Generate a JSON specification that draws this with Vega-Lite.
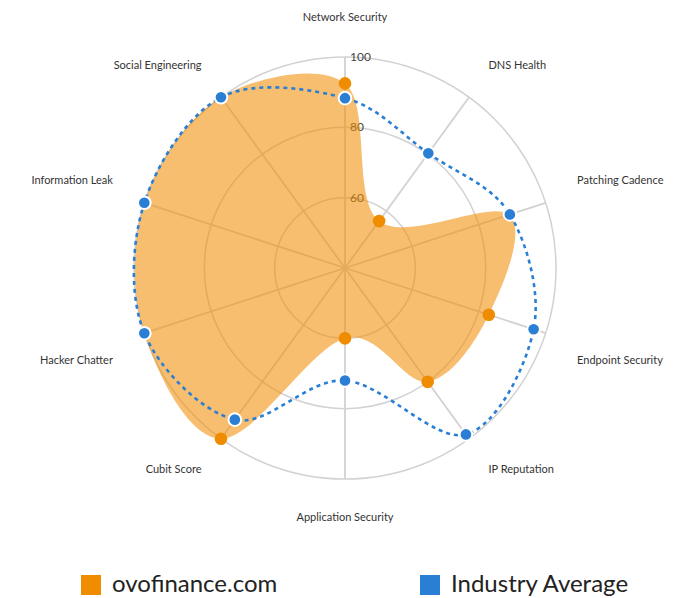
{
  "$schema": "https://vega.github.io/schema/vega-lite/v6.json",
  "width": 422,
  "height": 422,
  "autosize": {"type": "none"},
  "padding": {"left": 134, "top": 57, "right": 134, "bottom": 119},
  "background": "white",
  "config": {"view": {"stroke": null}, "font": "Lato"},
  "datasets": {
    "scores": [
      {"axis": "Network Security", "i": 0, "series": "ovofinance.com", "value": 92.5},
      {"axis": "DNS Health", "i": 1, "series": "ovofinance.com", "value": 56.5},
      {"axis": "Patching Cadence", "i": 2, "series": "ovofinance.com", "value": 89},
      {"axis": "Endpoint Security", "i": 3, "series": "ovofinance.com", "value": 83},
      {"axis": "IP Reputation", "i": 4, "series": "ovofinance.com", "value": 80},
      {"axis": "Application Security", "i": 5, "series": "ovofinance.com", "value": 60},
      {"axis": "Cubit Score", "i": 6, "series": "ovofinance.com", "value": 100},
      {"axis": "Hacker Chatter", "i": 7, "series": "ovofinance.com", "value": 100},
      {"axis": "Information Leak", "i": 8, "series": "ovofinance.com", "value": 100},
      {"axis": "Social Engineering", "i": 9, "series": "ovofinance.com", "value": 100},
      {"axis": "Network Security", "i": 0, "series": "Industry Average", "value": 88.3},
      {"axis": "DNS Health", "i": 1, "series": "Industry Average", "value": 80.3},
      {"axis": "Patching Cadence", "i": 2, "series": "Industry Average", "value": 89.3},
      {"axis": "Endpoint Security", "i": 3, "series": "Industry Average", "value": 96.4},
      {"axis": "IP Reputation", "i": 4, "series": "Industry Average", "value": 98.5},
      {"axis": "Application Security", "i": 5, "series": "Industry Average", "value": 72},
      {"axis": "Cubit Score", "i": 6, "series": "Industry Average", "value": 93.3},
      {"axis": "Hacker Chatter", "i": 7, "series": "Industry Average", "value": 100},
      {"axis": "Information Leak", "i": 8, "series": "Industry Average", "value": 100},
      {"axis": "Social Engineering", "i": 9, "series": "Industry Average", "value": 100}
    ],
    "axes": [
      {"axis": "Network Security", "i": 0},
      {"axis": "DNS Health", "i": 1},
      {"axis": "Patching Cadence", "i": 2},
      {"axis": "Endpoint Security", "i": 3},
      {"axis": "IP Reputation", "i": 4},
      {"axis": "Application Security", "i": 5},
      {"axis": "Cubit Score", "i": 6},
      {"axis": "Hacker Chatter", "i": 7},
      {"axis": "Information Leak", "i": 8},
      {"axis": "Social Engineering", "i": 9}
    ],
    "rings": [
      {"ring": 60},
      {"ring": 80},
      {"ring": 100}
    ]
  },
  "layer": [
    {
      "data": {"name": "rings"},
      "transform": [{"calculate": "datum.ring - 40", "as": "r"}],
      "mark": {"type": "point", "shape": "circle", "filled": false, "fill": null, "stroke": "#d2d2d2", "strokeWidth": 1.5, "opacity": 1},
      "encoding": {
        "x": {"datum": 0, "type": "quantitative", "scale": {"domain": [-60, 60], "nice": false, "zero": false}, "axis": null},
        "y": {"datum": 0, "type": "quantitative", "scale": {"domain": [-60, 60], "nice": false, "zero": false}, "axis": null},
        "size": {"field": "r", "type": "quantitative", "scale": {"type": "pow", "exponent": 2, "domain": [0, 60], "range": [0, 178084], "zero": true, "nice": false}, "legend": null}
      }
    },
    {
      "data": {"name": "axes"},
      "transform": [
        {"calculate": "2 * PI * datum.i / 10", "as": "theta"},
        {"calculate": "60 * sin(datum.theta)", "as": "ox"},
        {"calculate": "60 * cos(datum.theta)", "as": "oy"}
      ],
      "mark": {"type": "rule", "stroke": "#d2d2d2", "strokeWidth": 1.8},
      "encoding": {
        "x": {"field": "ox", "type": "quantitative"},
        "y": {"field": "oy", "type": "quantitative"},
        "x2": {"datum": 0},
        "y2": {"datum": 0}
      }
    },
    {
      "data": {"name": "rings"},
      "transform": [{"calculate": "datum.ring - 40", "as": "r"}],
      "mark": {"type": "text", "align": "left", "baseline": "middle", "dx": 5, "fontSize": 12, "fill": "#444"},
      "encoding": {
        "x": {"datum": 0},
        "y": {"field": "r", "type": "quantitative"},
        "text": {"field": "ring", "type": "quantitative"}
      }
    },
    {
      "data": {"name": "scores"},
      "transform": [
        {"filter": "datum.series == 'ovofinance.com'"},
        {"calculate": "2 * PI * datum.i / 10", "as": "theta"},
        {"calculate": "(datum.value - 40) * sin(datum.theta)", "as": "px"},
        {"calculate": "(datum.value - 40) * cos(datum.theta)", "as": "py"}
      ],
      "mark": {"type": "line", "interpolate": "cardinal-closed", "fill": "#F08C00", "fillOpacity": 0.57, "strokeWidth": 0, "strokeOpacity": 0},
      "encoding": {
        "x": {"field": "px", "type": "quantitative"},
        "y": {"field": "py", "type": "quantitative"},
        "order": {"field": "i", "type": "quantitative"}
      }
    },
    {
      "data": {"name": "scores"},
      "transform": [
        {"filter": "datum.series == 'Industry Average'"},
        {"calculate": "2 * PI * datum.i / 10", "as": "theta"},
        {"calculate": "(datum.value - 40) * sin(datum.theta)", "as": "px"},
        {"calculate": "(datum.value - 40) * cos(datum.theta)", "as": "py"}
      ],
      "mark": {"type": "line", "interpolate": "cardinal-closed", "stroke": "#2A7FD5", "strokeWidth": 2.6, "strokeDash": [4, 4]},
      "encoding": {
        "x": {"field": "px", "type": "quantitative"},
        "y": {"field": "py", "type": "quantitative"},
        "order": {"field": "i", "type": "quantitative"}
      }
    },
    {
      "data": {"name": "scores"},
      "transform": [
        {"filter": "datum.series == 'ovofinance.com'"},
        {"calculate": "2 * PI * datum.i / 10", "as": "theta"},
        {"calculate": "(datum.value - 40) * sin(datum.theta)", "as": "px"},
        {"calculate": "(datum.value - 40) * cos(datum.theta)", "as": "py"}
      ],
      "mark": {"type": "point", "shape": "circle", "filled": true, "opacity": 1, "size": 160, "strokeWidth": 0},
      "encoding": {
        "x": {"field": "px", "type": "quantitative"},
        "y": {"field": "py", "type": "quantitative"},
        "color": {
          "field": "series", "type": "nominal",
          "scale": {"domain": ["ovofinance.com", "Industry Average"], "range": ["#F08C00", "#2A7FD5"]},
          "legend": {
            "title": null, "orient": "none", "legendX": -55, "legendY": 516,
            "direction": "horizontal", "symbolType": "square", "symbolSize": 400,
            "symbolStrokeWidth": 0, "symbolOpacity": 1,
            "labelFontSize": 24, "labelFont": "Lato", "labelColor": "#222",
            "labelOffset": 9, "columnPadding": 140, "labelLimit": 400
          }
        }
      }
    },
    {
      "data": {"name": "scores"},
      "transform": [
        {"filter": "datum.series == 'Industry Average'"},
        {"calculate": "2 * PI * datum.i / 10", "as": "theta"},
        {"calculate": "(datum.value - 40) * sin(datum.theta)", "as": "px"},
        {"calculate": "(datum.value - 40) * cos(datum.theta)", "as": "py"}
      ],
      "mark": {"type": "point", "shape": "circle", "filled": true, "opacity": 1, "size": 160, "stroke": "white", "strokeWidth": 2},
      "encoding": {
        "x": {"field": "px", "type": "quantitative"},
        "y": {"field": "py", "type": "quantitative"},
        "color": {"field": "series", "type": "nominal"}
      }
    },
    {
      "data": {"name": "axes"},
      "transform": [
        {"calculate": "2 * PI * datum.i / 10", "as": "theta"},
        {"calculate": "69.4 * sin(datum.theta)", "as": "lx"},
        {"calculate": "71.1 * cos(datum.theta)", "as": "ly"}
      ],
      "mark": {
        "type": "text", "fontSize": 11, "fill": "#333", "baseline": "middle",
        "align": {"expr": "datum.i == 0 || datum.i == 5 ? 'center' : (datum.i < 5 ? 'left' : 'right')"},
        "dy": {"expr": "datum.i == 3 || datum.i == 7 ? 16 : (datum.i == 2 || datum.i == 8 ? -10 : 0)"}
      },
      "encoding": {
        "x": {"field": "lx", "type": "quantitative"},
        "y": {"field": "ly", "type": "quantitative"},
        "text": {"field": "axis", "type": "nominal"}
      }
    }
  ]
}
